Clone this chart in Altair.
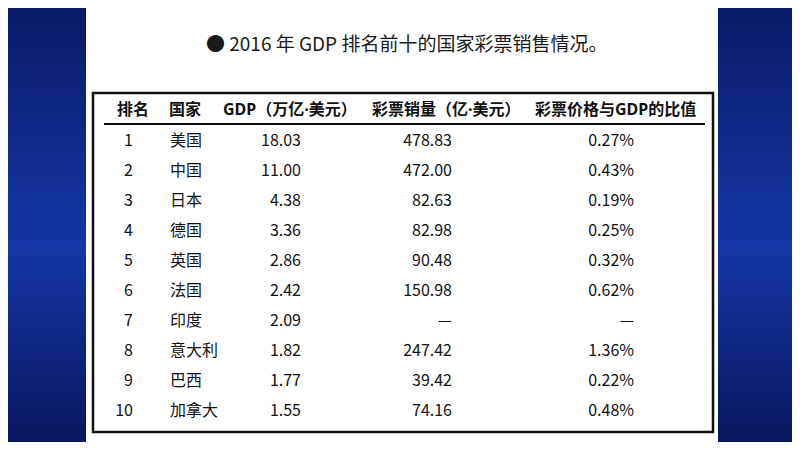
import altair as alt
import pandas as pd

# ---- data ----
title_text = "● 2016 年 GDP 排名前十的国家彩票销售情况。"
headers = ["排名", "国家", "GDP（万亿·美元）", "彩票销量（亿·美元）", "彩票价格与GDP的比值"]
ranks = [1, 2, 3, 4, 5, 6, 7, 8, 9, 10]
countries = ["美国", "中国", "日本", "德国", "英国", "法国", "印度", "意大利", "巴西", "加拿大"]
gdp = [18.03, 11.00, 4.38, 3.36, 2.86, 2.42, 2.09, 1.82, 1.77, 1.55]
sales = [478.83, 472.00, 82.63, 82.98, 90.48, 150.98, None, 247.42, 39.42, 74.16]
ratio = [0.27, 0.43, 0.19, 0.25, 0.32, 0.62, None, 1.36, 0.22, 0.48]

df = pd.DataFrame({
    "rank": ranks,
    "country": countries,
    "gdp": [f"{v:.2f}" for v in gdp],
    "sales": ["—" if v is None else f"{v:.2f}" for v in sales],
    "ratio": ["—" if v is None else f"{v:.2f}%" for v in ratio],
})

# ---- layout (page pixel coords; chart origin is at page (8,8)) ----
OFF = 8
W, H = 784, 434
FONT = "Noto Sans CJK SC"
HFONT = "Noto Sans, Noto Sans CJK SC"
def px(v):
    return v - OFF

yscale = alt.Scale(domain=[1, 10], range=[px(141), px(411)])

grad = alt.Gradient(
    gradient="linear",
    stops=[alt.GradientStop(color="#0a1a68", offset=0),
           alt.GradientStop(color="#1436a6", offset=0.55),
           alt.GradientStop(color="#0a1660", offset=1)],
    x1=0, x2=0, y1=0, y2=1,
)

one = pd.DataFrame({"k": [0]})

left_strip = alt.Chart(one).mark_rect(color=grad).encode(
    x=alt.value(px(0)), x2=alt.value(px(86)), y=alt.value(0), y2=alt.value(H))
right_strip = alt.Chart(one).mark_rect(color=grad).encode(
    x=alt.value(px(718)), x2=alt.value(W), y=alt.value(0), y2=alt.value(H))

table_box = alt.Chart(one).mark_rect(fill="white", stroke="#111111", strokeWidth=2.5).encode(
    x=alt.value(px(93)), x2=alt.value(px(713)), y=alt.value(px(93)), y2=alt.value(px(432)))

underline = alt.Chart(one).mark_rule(color="#111111", strokeWidth=2).encode(
    x=alt.value(px(104)), x2=alt.value(px(705)), y=alt.value(px(124)))

title = alt.Chart(pd.DataFrame({"t": [title_text]})).mark_text(
    font=FONT, fontSize=19, align="left", baseline="middle", color="#1a1a1a"
).encode(text="t:N", x=alt.value(px(206)), y=alt.value(px(45)))

header_left = [117, 169, 223, 372, 535]
header_layers = []
for h, xl in zip(headers, header_left):
    header_layers.append(
        alt.Chart(pd.DataFrame({"h": [h]})).mark_text(
            font=HFONT, fontSize=16, fontWeight="bold", align="left",
            baseline="middle", color="#111111"
        ).encode(text="h:N", x=alt.value(px(xl)), y=alt.value(px(110)))
    )

base = alt.Chart(df)
def col(field, xpos, align):
    return base.mark_text(
        font=FONT, fontSize=16, align=align, baseline="middle", color="#111111"
    ).encode(
        text=f"{field}:N",
        x=alt.value(px(xpos)),
        y=alt.Y("rank:Q", scale=yscale, axis=None),
    )

c_rank = col("rank", 133, "right")
c_country = col("country", 170, "left")
c_gdp = col("gdp", 301, "right")
c_sales = col("sales", 452, "right")
c_ratio = col("ratio", 634, "right")

chart = alt.layer(
    left_strip, right_strip, table_box, underline, title,
    *header_layers, c_rank, c_country, c_gdp, c_sales, c_ratio
).properties(
    width=W, height=H, padding=0, autosize=alt.AutoSizeParams(type="none"),
    background="white"
).configure_view(stroke=None)

chart.save("out.html", embed_options={"renderer": "svg", "actions": False})
